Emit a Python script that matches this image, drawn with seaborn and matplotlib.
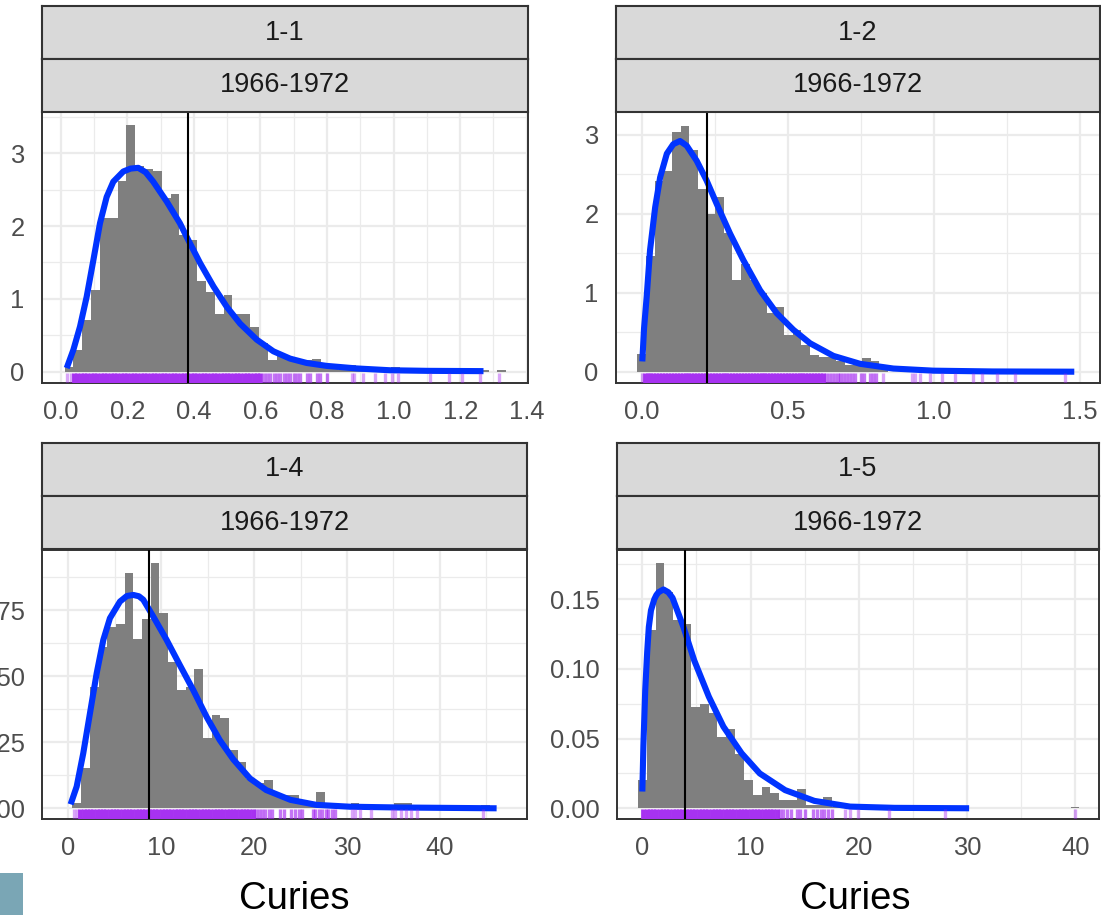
import numpy as np
import pandas as pd
import matplotlib
matplotlib.use("Agg")
import matplotlib.pyplot as plt
from matplotlib.ticker import MultipleLocator, FixedLocator, FixedFormatter
from matplotlib.patches import Rectangle
import seaborn as sns

sns.set_style("white")
plt.rcParams['font.family'] = ['Liberation Sans', 'DejaVu Sans']

# ---------------- data ----------------
strip_site = ["1-1", "1-2", "1-4", "1-5"]
strip_period = ["1966-1972", "1966-1972", "1966-1972", "1966-1972"]
x_title = "Curies"

# histogram (density) bin heights, 50 bins each
p1_bin_start, p1_bin_width = 0.0117, 0.02653
p1_hist = [0.07, 0.30, 0.71, 1.12, 2.11, 2.11, 2.62, 3.39, 2.82, 2.79,
           2.75, 2.38, 2.44, 1.88, 1.81, 1.24, 1.10, 0.79, 1.05, 0.79,
           0.79, 0.62, 0.39, 0.16, 0.23, 0.18, 0.18, 0.16, 0.18, 0.07,
           0.06, 0.03, 0.09, 0.03, 0.0, 0.03, 0.03, 0.06, 0.0, 0.0,
           0.0, 0.03, 0.0, 0.03, 0.03, 0.0, 0.0, 0.03, 0.0, 0.03]
p2_bin_start, p2_bin_width = -0.0148, 0.02955
p2_hist = [0.23, 1.47, 2.41, 2.54, 3.04, 3.11, 2.81, 2.31, 1.99, 2.21,
           1.75, 1.16, 1.36, 1.16, 1.00, 0.74, 0.82, 0.46, 0.53, 0.34,
           0.21, 0.19, 0.19, 0.13, 0.08, 0.08, 0.17, 0.13, 0.04, 0.0,
           0.0, 0.03, 0.06, 0.03, 0.0, 0.03, 0.03, 0.0, 0.03, 0.03,
           0.0, 0.03, 0.0, 0.03, 0.0, 0.0, 0.0, 0.0, 0.0, 0.03]
p3_bin_start, p3_bin_width = 0.452, 0.936
p3_hist = [0.0019, 0.0151, 0.046, 0.0609, 0.0684, 0.0697, 0.0889, 0.064, 0.0716, 0.0929,
           0.0737, 0.0555, 0.0448, 0.046, 0.0526, 0.0267, 0.0353, 0.034, 0.0221, 0.0176,
           0.011, 0.0097, 0.0107, 0.0057, 0.005, 0.005, 0.0025, 0.0013, 0.0063, 0.0013,
           0.0011, 0.0, 0.0021, 0.0011, 0.0011, 0.0, 0.0011, 0.0021, 0.0021, 0.0011,
           0.0, 0.0, 0.0, 0.0, 0.0, 0.0, 0.0, 0.0011, 0.0, 0.0]
p4_bin_start, p4_bin_width = -0.408, 0.816
p4_hist = [0.020, 0.128, 0.176, 0.155, 0.135, 0.132, 0.073, 0.075, 0.068, 0.051,
           0.057, 0.039, 0.020, 0.0096, 0.0156, 0.0108, 0.006, 0.006, 0.0136, 0.0024,
           0.0024, 0.0084, 0.0012, 0.0012, 0.0024, 0.0, 0.0, 0.0, 0.0012, 0.0,
           0.0, 0.0, 0.0, 0.0, 0.0012, 0.0, 0.0, 0.0, 0.0, 0.0,
           0.0, 0.0, 0.0, 0.0, 0.0, 0.0, 0.0, 0.0, 0.0, 0.0012]

# fitted density curves
p1_curve_x = [0.018, 0.038, 0.058, 0.078, 0.098, 0.118, 0.138, 0.158, 0.188, 0.21, 0.233, 0.255,
              0.278, 0.318, 0.358, 0.383, 0.419, 0.459, 0.499, 0.539, 0.589, 0.639, 0.689, 0.739,
              0.799, 0.889, 0.989, 1.1, 1.27]
p1_curve_y = [0.05, 0.30, 0.62, 1.03, 1.53, 2.04, 2.40, 2.61, 2.75, 2.79, 2.80, 2.74,
              2.61, 2.34, 2.04, 1.81, 1.49, 1.17, 0.89, 0.66, 0.44, 0.28, 0.18, 0.12,
              0.08, 0.045, 0.02, 0.012, 0.008]
p2_curve_x = [0.002, 0.008, 0.017, 0.0285, 0.046, 0.063, 0.086, 0.108, 0.131, 0.154, 0.188, 0.222,
              0.257, 0.302, 0.348, 0.405, 0.462, 0.519, 0.576, 0.656, 0.747, 0.861, 0.998, 1.2, 1.48]
p2_curve_y = [0.13, 0.55, 0.95, 1.54, 2.08, 2.46, 2.76, 2.88, 2.92, 2.86, 2.67, 2.42,
              2.12, 1.75, 1.41, 1.03, 0.74, 0.53, 0.36, 0.20, 0.10, 0.04, 0.013, 0.003, 0.0]
p3_curve_x = [0.25, 0.9, 1.61, 2.33, 3.05, 3.77, 4.48, 5.56, 6.3, 7.0, 7.6, 8.07, 9.15, 10.58,
              12.0, 13.45, 14.9, 16.3, 17.76, 19.55, 21.3, 23.9, 26.7, 30.3, 35.7, 46.1]
p3_curve_y = [0.0015, 0.0082, 0.0208, 0.0359, 0.051, 0.0637, 0.0719, 0.0782, 0.0803, 0.0807,
              0.0802, 0.0789, 0.0725, 0.0637, 0.0542, 0.0447, 0.0345, 0.0258, 0.0185, 0.0113,
              0.0069, 0.0032, 0.0013, 0.0006, 0.0003, 0.0]
p4_curve_x = [0.0, 0.1, 0.27, 0.45, 0.6, 0.8, 1.11, 1.3, 1.5, 1.95, 2.4, 2.79, 3.8, 4.8, 6.15,
              7.49, 9.17, 10.85, 13.2, 15.9, 19.2, 23.3, 30.2]
p4_curve_y = [0.012, 0.045, 0.085, 0.112, 0.13, 0.142, 0.150, 0.153, 0.155, 0.157, 0.155, 0.151,
              0.130, 0.106, 0.080, 0.0586, 0.0395, 0.025, 0.013, 0.0053, 0.0012, 0.0003, 0.0]

# vertical reference lines (means)
panel_means = [0.383, 0.222, 8.72, 3.95]

# rug observations: dense / medium / sparse stretches
p1_rug_dense = [0.04, 0.05, 0.06, 0.07, 0.08, 0.09, 0.10, 0.11, 0.12, 0.13, 0.14, 0.15, 0.16, 0.17,
                0.18, 0.19, 0.20, 0.21, 0.22, 0.23, 0.24, 0.25, 0.26, 0.27, 0.28, 0.29, 0.30, 0.31,
                0.32, 0.33, 0.34, 0.35, 0.36, 0.37, 0.38, 0.39, 0.40, 0.41, 0.42, 0.43, 0.44, 0.45,
                0.46, 0.47, 0.48, 0.49, 0.50, 0.51, 0.52, 0.53, 0.54, 0.55, 0.56, 0.57, 0.58, 0.59,
                0.60]
p1_rug_mid = [0.61, 0.62, 0.63, 0.64, 0.65, 0.66, 0.67, 0.68, 0.69, 0.70, 0.71, 0.72, 0.74, 0.75,
              0.77, 0.78, 0.80]
p1_rug_sparse = [0.02, 0.03, 0.875, 0.88, 0.907, 0.944, 0.974, 0.994, 1.014, 1.11, 1.165, 1.205,
                 1.26, 1.318]
p2_rug_dense = [0.01, 0.02, 0.03, 0.04, 0.05, 0.06, 0.07, 0.08, 0.09, 0.10, 0.11, 0.12, 0.13, 0.14,
                0.15, 0.16, 0.17, 0.18, 0.19, 0.20, 0.21, 0.22, 0.23, 0.24, 0.25, 0.26, 0.27, 0.28,
                0.29, 0.30, 0.31, 0.32, 0.33, 0.34, 0.35, 0.36, 0.37, 0.38, 0.39, 0.40, 0.41, 0.42,
                0.43, 0.44, 0.45, 0.46, 0.47, 0.48, 0.49, 0.50, 0.51, 0.52, 0.53, 0.54, 0.55, 0.56,
                0.57, 0.58, 0.59, 0.60, 0.61, 0.62]
p2_rug_mid = [0.63, 0.64, 0.65, 0.66, 0.67, 0.68, 0.69, 0.70, 0.71, 0.72, 0.73, 0.75, 0.76, 0.78,
              0.79, 0.80]
p2_rug_sparse = [0.0, 0.827, 0.924, 0.935, 0.952, 0.986, 1.026, 1.072, 1.135, 1.163, 1.214, 1.277,
                 1.448]
p3_rug_dense = [1.30, 1.65, 2.00, 2.35, 2.70, 3.05, 3.40, 3.75, 4.10, 4.45, 4.80, 5.15, 5.50, 5.85,
                6.20, 6.55, 6.90, 7.25, 7.60, 7.95, 8.30, 8.65, 9.00, 9.35, 9.70, 10.05, 10.40,
                10.75, 11.10, 11.45, 11.80, 12.15, 12.50, 12.85, 13.20, 13.55, 13.90, 14.25, 14.60,
                14.95, 15.30, 15.65, 16.00, 16.35, 16.70, 17.05, 17.40, 17.75, 18.10, 18.45, 18.80,
                19.15, 19.50, 19.85]
p3_rug_mid = [20.2, 20.5, 20.9, 21.2, 21.6, 21.9, 22.8, 23.2, 24.0, 24.4, 24.8, 25.2, 26.3, 26.6,
              27.0, 27.3, 27.7, 28.0, 28.4, 28.7]
p3_rug_sparse = [0.6, 0.95, 30.5, 30.9, 31.4, 32.6, 34.8, 35.2, 35.8, 36.3, 36.9, 37.5, 44.6]
p4_rug_dense = [0.1, 0.4, 0.7, 1.0, 1.3, 1.6, 1.9, 2.2, 2.5, 2.8, 3.1, 3.4, 3.7, 4.0, 4.3, 4.6,
                4.9, 5.2, 5.5, 5.8, 6.1, 6.4, 6.7, 7.0, 7.3, 7.6, 7.9, 8.2, 8.5, 8.8, 9.1, 9.4,
                9.7, 10.0, 10.3, 10.6, 10.9, 11.2, 11.5, 11.8, 12.1, 12.4]
p4_rug_mid = [12.7, 13.0, 13.4, 13.7, 14.3, 14.6, 15.0, 15.8, 16.1, 16.5, 16.8, 17.2, 17.5]
p4_rug_sparse = [18.7, 19.2, 19.9, 22.8, 28.0, 40.0]

# axis ticks
p1_xticks = [0.0, 0.2, 0.4, 0.6, 0.8, 1.0, 1.2, 1.4]
p1_xlabels = ["0.0", "0.2", "0.4", "0.6", "0.8", "1.0", "1.2", "1.4"]
p1_yticks = [0, 1, 2, 3]
p1_ylabels = ["0", "1", "2", "3"]
p2_xticks = [0.0, 0.5, 1.0, 1.5]
p2_xlabels = ["0.0", "0.5", "1.0", "1.5"]
p2_yticks = [0, 1, 2, 3]
p2_ylabels = ["0", "1", "2", "3"]
p3_xticks = [0, 10, 20, 30, 40]
p3_xlabels = ["0", "10", "20", "30", "40"]
p3_yticks = [0.0, 0.025, 0.05, 0.075]
p3_ylabels = ["0.000", "0.025", "0.050", "0.075"]
p4_xticks = [0, 10, 20, 30, 40]
p4_xlabels = ["0", "10", "20", "30", "40"]
p4_yticks = [0.0, 0.05, 0.10, 0.15]
p4_ylabels = ["0.00", "0.05", "0.10", "0.15"]

# ---------------- layout (pixels) ----------------
W, H = 1101, 915
fig = plt.figure(figsize=(W / 100, H / 100), dpi=100)


def box(x0, y0, x1, y1):
    return [x0 / W, 1 - y1 / H, (x1 - x0) / W, (y1 - y0) / H]


panels = [
    dict(rect=(42, 112, 528, 383), strips=((42, 6, 528, 59), (42, 59, 528, 112)),
         xlim=(-0.0562, 1.4037), ylim=(-0.155, 3.567), xminor=0.1, yminor=0.5,
         start=p1_bin_start, width=p1_bin_width, hist=p1_hist, cx=p1_curve_x, cy=p1_curve_y,
         rug=(p1_rug_dense, p1_rug_mid, p1_rug_sparse),
         xt=p1_xticks, xl=p1_xlabels, yt=p1_yticks, yl=p1_ylabels),
    dict(rect=(616, 112, 1100, 383), strips=((616, 6, 1100, 59), (616, 59, 1100, 112)),
         xlim=(-0.088, 1.568), ylim=(-0.143, 3.287), xminor=0.25, yminor=0.5,
         start=p2_bin_start, width=p2_bin_width, hist=p2_hist, cx=p2_curve_x, cy=p2_curve_y,
         rug=(p2_rug_dense, p2_rug_mid, p2_rug_sparse),
         xt=p2_xticks, xl=p2_xlabels, yt=p2_yticks, yl=p2_ylabels),
    dict(rect=(42, 550, 527, 819), strips=((42, 443, 527, 496), (42, 496, 527, 549)),
         xlim=(-2.83, 49.37), ylim=(-0.00405, 0.0977), xminor=5, yminor=0.0125,
         start=p3_bin_start, width=p3_bin_width, hist=p3_hist, cx=p3_curve_x, cy=p3_curve_y,
         rug=(p3_rug_dense, p3_rug_mid, p3_rug_sparse),
         xt=p3_xticks, xl=p3_xlabels, yt=p3_yticks, yl=p3_ylabels),
    dict(rect=(617, 550, 1099, 819), strips=((617, 443, 1099, 496), (617, 496, 1099, 549)),
         xlim=(-2.34, 42.2), ylim=(-0.0077, 0.1853), xminor=5, yminor=0.025,
         start=p4_bin_start, width=p4_bin_width, hist=p4_hist, cx=p4_curve_x, cy=p4_curve_y,
         rug=(p4_rug_dense, p4_rug_mid, p4_rug_sparse),
         xt=p4_xticks, xl=p4_xlabels, yt=p4_yticks, yl=p4_ylabels),
]

BORDER = "#333333"
GRID = "#ebebeb"
TICKTXT = "#4d4d4d"
HISTC = "#7f7f7f"
CURVE = "#0033ff"
RUGC = "#a020f0"
RUG_DENSE = "#a732f1"
TICKFS = 18.4
STRIPFS = 19.5

for i, p in enumerate(panels):
    ax = fig.add_axes(box(*p["rect"]))
    ax.set_facecolor("white")
    heights = np.asarray(p["hist"], dtype=float)
    n = len(heights)
    lo = p["start"]
    hi = p["start"] + p["width"] * n
    centers = lo + p["width"] * (np.arange(n) + 0.5)
    hdf = pd.DataFrame({"x": centers, "w": heights})
    sns.histplot(data=hdf, x="x", weights="w", binwidth=p["width"], binrange=(lo, hi),
                 stat="count", color=HISTC, alpha=1, linewidth=0, ax=ax)
    sns.lineplot(x=p["cx"], y=p["cy"], color=CURVE, linewidth=4.4, ax=ax,
                 solid_capstyle="butt", zorder=4)
    dense, mid, sparse = p["rug"]
    sns.rugplot(x=dense, height=0.037, color=RUG_DENSE, alpha=1.0, linewidth=3.4, ax=ax,
                expand_margins=False, zorder=5)
    sns.rugplot(x=mid, height=0.037, color=RUGC, alpha=0.62, linewidth=2.4, ax=ax,
                expand_margins=False, zorder=5)
    sns.rugplot(x=sparse, height=0.037, color=RUGC, alpha=0.4, linewidth=2.4, ax=ax,
                expand_margins=False, zorder=5)
    ax.axvline(panel_means[i], color="black", linewidth=1.5, zorder=6)

    ax.set_xlim(*p["xlim"])
    ax.set_ylim(*p["ylim"])
    ax.xaxis.set_major_locator(FixedLocator(p["xt"]))
    ax.xaxis.set_major_formatter(FixedFormatter(p["xl"]))
    ax.yaxis.set_major_locator(FixedLocator(p["yt"]))
    ax.yaxis.set_major_formatter(FixedFormatter(p["yl"]))
    ax.xaxis.set_minor_locator(MultipleLocator(p["xminor"]))
    ax.yaxis.set_minor_locator(MultipleLocator(p["yminor"]))
    ax.set_axisbelow(True)
    ax.grid(which="major", color=GRID, linewidth=1.6)
    ax.grid(which="minor", color=GRID, linewidth=0.9)
    ax.tick_params(which="major", length=6.5, width=1.4, color=BORDER,
                   labelsize=TICKFS, labelcolor=TICKTXT, pad=6)
    ax.tick_params(which="minor", length=0)
    ax.set_xlabel("")
    ax.set_ylabel("")
    for s in ax.spines.values():
        s.set_color(BORDER)
        s.set_linewidth(1.4)
        s.set_visible(True)

    for j, sb in enumerate(p["strips"]):
        sax = fig.add_axes(box(*sb))
        sax.set_facecolor("#d9d9d9")
        sax.set_xticks([])
        sax.set_yticks([])
        for s in sax.spines.values():
            s.set_color(BORDER)
            s.set_linewidth(1.5)
        label = strip_site[i] if j == 0 else strip_period[i]
        sax.text(0.5, 0.5, label, ha="center", va="center", fontsize=STRIPFS,
                 color="#1a1a1a", transform=sax.transAxes)

fig.text(294 / W, 1 - 909 / H, x_title, ha="center", va="baseline", fontsize=27.5, color="black")
fig.text(855 / W, 1 - 909 / H, x_title, ha="center", va="baseline", fontsize=27.5, color="black")
fig.patches.append(Rectangle((0, 0), 22.6 / W, 42.3 / H, transform=fig.transFigure,
                             facecolor="#7aa6b5", edgecolor="none"))

fig.savefig("out.png", dpi=100)
